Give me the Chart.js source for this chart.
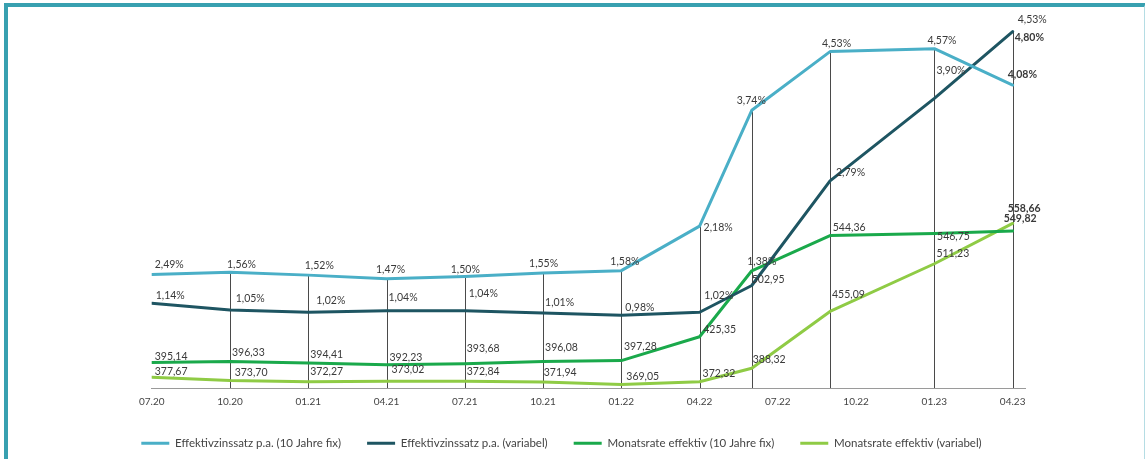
<!DOCTYPE html>
<html><head><meta charset="utf-8">
<script src="https://cdn.jsdelivr.net/npm/chart.js@4.4.0/dist/chart.umd.min.js"></script>
<style>
html,body{margin:0;padding:0;background:#fff;}
#wrap{position:relative;width:1145px;height:459px;overflow:hidden;background:#fff;}
#c{position:absolute;left:0;top:0;}
#frame{position:absolute;left:4px;top:3px;width:1136px;height:480px;border-top:4px solid #38a0b0;border-left:4px solid #38a0b0;border-right:2px solid #b5dde4;pointer-events:none;}
</style></head>
<body>
<div id="wrap"><canvas id="c" width="1145" height="459"></canvas><div id="frame"></div></div>
<script>
// ---- data ----
const months = [0, 3, 6, 9, 12, 15, 18, 21, 23, 26, 30, 33];
const tickLabels = ['07.20','10.20','01.21','04.21','07.21','10.21','01.22','04.22','07.22','10.22','01.23','04.23'];
const seriesNames = ['Effektivzinssatz p.a. (10 Jahre fix)','Effektivzinssatz p.a. (variabel)','Monatsrate effektiv (10 Jahre fix)','Monatsrate effektiv (variabel)'];
const zinsFix = [1.53, 1.56, 1.52, 1.47, 1.50, 1.55, 1.58, 2.18, 3.74, 4.53, 4.57, 4.08];
const zinsVar = [1.14, 1.05, 1.02, 1.04, 1.04, 1.01, 0.98, 1.02, 1.38, 2.79, 3.90, 4.80];
const rateFix = [395.14, 396.33, 394.41, 392.23, 393.68, 396.08, 397.28, 425.35, 502.95, 544.36, 546.75, 549.82];
const rateVar = [377.67, 373.70, 372.27, 373.02, 372.84, 371.94, 369.05, 372.32, 388.32, 455.09, 511.23, 558.66];
const zinsFixLabels = ['2,49%','1,56%','1,52%','1,47%','1,50%','1,55%','1,58%','2,18%','3,74%','4,53%','4,57%','4,08%'];
const zinsVarLabels = ['1,14%','1,05%','1,02%','1,04%','1,04%','1,01%','0,98%','1,02%','1,38%','2,79%','3,90%','4,80%'];
const rateFixLabels = ['395,14','396,33','394,41','392,23','393,68','396,08','397,28','425,35','502,95','544,36','546,75','549,82'];
const rateVarLabels = ['377,67','373,70','372,27','373,02','372,84','371,94','369,05','372,32','388,32','455,09','511,23','558,66'];
const extraLabel = '4,53%';

// ---- label placement (layout only) ----
const labelOffsets = [
  [[3,-9.5],[-3,-8],[-3.5,-10],[-10.5,-9],[-14,-7],[-14,-9],[-11,-9],[4,1],[-15,-10],[-8,-8],[-7,-8],[-5,-10]],
  [[4,-8],[5.7,-11],[8,-12],[2,-13],[4,-17],[2,-10],[4,-8],[4.7,-17],[-4.5,-24],[6,-8],[2,-28],[2,6]],
  [[3,-6],[2,-9],[2,-8],[3,-7],[2,-15],[2,-13.6],[2.7,-14],[3.7,-7],[0,9],[2.7,-8],[2.7,3],[-9,-12]],
  [[3,-6],[4.7,-8],[2,-10],[5,-12],[2,-10],[0.7,-9],[5,-8],[3,-8],[1,-9],[2,-17],[2,-10],[-5,-15]]
];
const labelSets = [zinsFixLabels, zinsVarLabels, rateFixLabels, rateVarLabels];
const colors = ['#4aafc7', '#1e5562', '#1aa94b', '#8fcb45'];

const toPts = arr => months.map((m, i) => ({x: m, y: arr[i]}));

const dropLines = {
  id: 'dropLines',
  beforeDatasetsDraw(chart) {
    const c = chart.ctx, area = chart.chartArea;
    const metas = chart.data.datasets.map((d, i) => chart.getDatasetMeta(i));
    c.save();
    c.strokeStyle = '#4a4a4a';
    c.lineWidth = 1;
    for (let i = 1; i < months.length; i++) {
      let top = Infinity, x = metas[0].data[i].x;
      metas.forEach(m => { top = Math.min(top, m.data[i].y); });
      const xx = Math.round(x) + 0.5;
      c.beginPath(); c.moveTo(xx, top); c.lineTo(xx, area.bottom); c.stroke();
    }
    c.restore();
  }
};

const valueLabels = {
  id: 'valueLabels',
  afterDatasetsDraw(chart) {
    const c = chart.ctx;
    c.save();
    c.textAlign = 'left'; c.textBaseline = 'middle';
    chart.data.datasets.forEach((ds, di) => {
      const meta = chart.getDatasetMeta(di);
      meta.data.forEach((pt, i) => {
        const o = labelOffsets[di][i];
        c.font = (i === months.length - 1 ? '700 ' : '400 ') + '10.5px Lato';
        c.fillStyle = '#3a3a3a';
        c.fillText(labelSets[di][i], pt.x + o[0], pt.y + o[1]);
      });
    });
    const p = chart.getDatasetMeta(1).data[months.length - 1];
    c.font = '400 10.5px Lato';
    c.fillText(extraLabel, p.x + 5, p.y - 12);
    c.restore();
  }
};

const ds = (i, arr, axis) => ({
  label: seriesNames[i], data: toPts(arr), yAxisID: axis,
  borderColor: colors[i], backgroundColor: colors[i]
});

new Chart(document.getElementById('c'), {
  type: 'line',
  data: { datasets: [ds(0, zinsFix, 'yPct'), ds(1, zinsVar, 'yPct'), ds(2, rateFix, 'yEur'), ds(3, rateVar, 'yEur')] },
  options: {
    responsive: false, animation: false,
    layout: { padding: { top: 16.7, left: 0, right: 22, bottom: 0 } },
    elements: { line: { borderWidth: 3, tension: 0, borderCapStyle: 'round', borderJoinStyle: 'round' }, point: { radius: 0 } },
    scales: {
      x: {
        type: 'linear', min: 0, max: 33.5,
        grid: { display: false, drawTicks: false },
        border: { display: true, color: '#9a9a9a', width: 1 },
        ticks: { padding: 8, color: '#444', font: { family: 'Lato', size: 10 },
          callback: v => tickLabels[Math.round(v / 3)] || '' },
        afterBuildTicks: s => { s.ticks = tickLabels.map((t, i) => ({ value: i * 3 })); },
        afterFit: s => { s.height = 23.5; }
      },
      yPct: {
        position: 'left', min: 0, max: 5,
        grid: { display: false, drawTicks: false }, border: { display: false }, ticks: { display: false },
        afterFit: s => { s.width = 151.7; }
      },
      yEur: {
        position: 'right', min: 365, max: 802,
        grid: { display: false, drawTicks: false }, border: { display: false }, ticks: { display: false },
        afterFit: s => { s.width = 97.3; }
      }
    },
    plugins: {
      tooltip: { enabled: false },
      legend: {
        position: 'bottom',
        labels: {
          boxWidth: 28, boxHeight: 3, padding: 26, color: '#444',
          font: { family: 'Lato', size: 11.5 },
          generateLabels: chart => Chart.defaults.plugins.legend.labels.generateLabels(chart).map(it => ({ ...it, lineWidth: 0 }))
        }
      }
    }
  },
  plugins: [dropLines, valueLabels]
});
</script>
</body></html>
